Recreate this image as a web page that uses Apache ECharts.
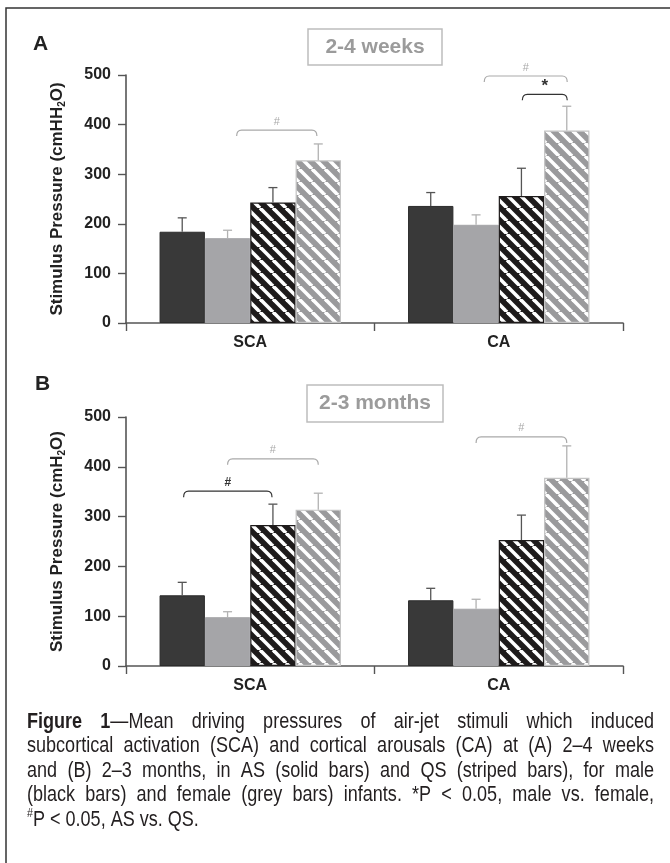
<!DOCTYPE html>
<html><head><meta charset="utf-8">
<script src="https://cdn.jsdelivr.net/npm/echarts@6/dist/echarts.min.js"></script>
<style>html,body{margin:0;padding:0;background:#fff}#c{width:670px;height:863px}</style>
</head><body><div id="c"></div>
<script>
// ---------------- data ----------------
const categories = ['SCA', 'CA'];
const yTicks = [0, 100, 200, 300, 400, 500];
const panelLetters = ['A', 'B'];
const panelTitles = ['2-4 weeks', '2-3 months'];
const yAxisTitles = ['Stimulus Pressure (cmHH{sub|2}O)', 'Stimulus Pressure (cmH{sub|2}O)'];
const seriesNames = ['Male AS', 'Female AS', 'Male QS', 'Female QS'];

// Panel A: 2-4 weeks (means and upper end of error bars)
const weeksMaleAS = [184, 236];
const weeksFemaleAS = [171, 198];
const weeksMaleQS = [243, 256];
const weeksFemaleQS = [328, 388];
const weeksMaleASErr = [212, 263];
const weeksFemaleASErr = [187, 218];
const weeksMaleQSErr = [273, 312];
const weeksFemaleQSErr = [361, 437];

// Panel B: 2-3 months
const monthsMaleAS = [142, 132];
const monthsFemaleAS = [98, 115];
const monthsMaleQS = [283, 253];
const monthsFemaleQS = [314, 378];
const monthsMaleASErr = [168, 156];
const monthsFemaleASErr = [109, 134];
const monthsMaleQSErr = [325, 303];
const monthsFemaleQSErr = [347, 442];

// significance brackets: [category, from bar slot, to bar slot, level, mark, dark]
const weeksBrackets = [[0, 1.2, 2.97, 389, '#', 0], [1, 1.18, 3.01, 498, '#', 0], [1, 2.02, 3.01, 461, '*', 1]];
const monthsBrackets = [[0, 0.03, 1.98, 351, '#', 1], [0, 1, 3, 416, '#', 0], [1, 1, 3, 460, '#', 0]];

// caption: §bold§, ^superscript^
const captionLines = [
  '§Figure§ §1§—Mean driving pressures of air-jet stimuli which induced',
  'subcortical activation (SCA) and cortical arousals (CA) at (A) 2–4 weeks',
  'and (B) 2–3 months, in AS (solid bars) and QS (striped bars), for male',
  '(black bars) and female (grey bars) infants. *P < 0.05, male vs. female,',
  '^#^P < 0.05, AS vs. QS.'
];

// ---------------- styling helpers ----------------
const FONT = '"Liberation Sans", Arial, Helvetica, sans-serif';
const AXIS_COL = '#555555';
const TXT = '#222222';
const CAT_GAP = 0.27;

function makeStripes(bg, fg) {
  const s = 13;
  const c = document.createElement('canvas');
  c.width = s; c.height = s;
  const g = c.getContext('2d');
  g.fillStyle = bg; g.fillRect(0, 0, s, s);
  g.strokeStyle = fg; g.lineWidth = 3.6;
  for (const o of [-s, 0, s]) { g.beginPath(); g.moveTo(o, 0); g.lineTo(o + s, s); g.stroke(); }
  return c;
}
const barStyles = [
  { color: '#393939', borderColor: '#2c2c2c', borderWidth: 1 },
  { color: '#a5a5a8', borderColor: '#a5a5a8', borderWidth: 1 },
  { color: { image: makeStripes('#1e1b1b', '#ffffff'), repeat: 'repeat' }, borderColor: '#1e1b1b', borderWidth: 1.2 },
  { color: { image: makeStripes('#9a9a9c', '#ffffff'), repeat: 'repeat' }, borderColor: '#c2c2c2', borderWidth: 1.2 }
];

const panels = [
  { means: [weeksMaleAS, weeksFemaleAS, weeksMaleQS, weeksFemaleQS],
    errs: [weeksMaleASErr, weeksFemaleASErr, weeksMaleQSErr, weeksFemaleQSErr],
    brackets: weeksBrackets },
  { means: [monthsMaleAS, monthsFemaleAS, monthsMaleQS, monthsFemaleQS],
    errs: [monthsMaleASErr, monthsFemaleASErr, monthsMaleQSErr, monthsFemaleQSErr],
    brackets: monthsBrackets }
];

function slotX(api, cat, slot) {
  const band = api.size([1, 0])[0];
  const bw = band * (1 - CAT_GAP) / 4;
  return api.coord([cat, 0])[0] + (slot - 1.5) * bw;
}

function errorSeries(gi, p) {
  const data = [];
  for (let b = 0; b < 4; b++) for (let c = 0; c < categories.length; c++) data.push([c, p.means[b][c], p.errs[b][c], b]);
  return {
    type: 'custom', xAxisIndex: gi, yAxisIndex: gi, z: 5, silent: true, data,
    encode: { x: 0, y: [1, 2] },
    renderItem(params, api) {
      const cat = api.value(0), b = api.value(3);
      const x = slotX(api, cat, b);
      const y0 = api.coord([cat, api.value(1)])[1];
      const y1 = api.coord([cat, api.value(2)])[1];
      const col = b % 2 === 0 ? '#555555' : '#b2b2b2';
      return { type: 'group', children: [
        { type: 'line', shape: { x1: x, y1: y0, x2: x, y2: y1 }, style: { stroke: col, lineWidth: 1.3 } },
        { type: 'line', shape: { x1: x - 4.5, y1: y1, x2: x + 4.5, y2: y1 }, style: { stroke: col, lineWidth: 1.3 } }
      ] };
    }
  };
}

function bracketSeries(gi, brackets) {
  return {
    type: 'custom', xAxisIndex: gi, yAxisIndex: gi, z: 6, silent: true,
    data: brackets.map(b => [b[0], b[3]]),
    encode: { x: 0, y: 1 },
    renderItem(params, api) {
      const br = brackets[params.dataIndex];
      const x1 = slotX(api, br[0], br[1]);
      const x2 = slotX(api, br[0], br[2]);
      const y = api.coord([br[0], br[3]])[1];
      const dark = br[5] === 1;
      const col = dark ? '#333333' : '#a9a9a9';
      const d = 6, r = 5;
      const path = `M${x1},${y + d} Q${x1},${y} ${x1 + r},${y} L${x2 - r},${y} Q${x2},${y} ${x2},${y + d}`;
      const isStar = br[4] === '*';
      return { type: 'group', children: [
        { type: 'path', shape: { pathData: path }, style: { fill: null, stroke: col, lineWidth: 1.2 } },
        { type: 'text', style: { text: br[4], x: (x1 + x2) / 2, y: y - (isStar ? 0 : 3),
          align: 'center', verticalAlign: 'bottom', textAlign: 'center', textVerticalAlign: 'bottom', fill: col,
          font: isStar ? 'bold 17px ' + FONT : (dark ? 'bold 12px ' : '11px ') + FONT } }
      ] };
    }
  };
}

const grids = [
  { left: 126, top: 75, width: 497, height: 248 },
  { left: 126, top: 417, width: 497, height: 249 }
];

const xAxes = [], yAxes = [], series = [];
panels.forEach((p, gi) => {
  xAxes.push({
    type: 'category', gridIndex: gi, data: categories,
    axisLine: { lineStyle: { color: AXIS_COL, width: 1.6 } },
    axisTick: { show: true, length: 8, lineStyle: { color: AXIS_COL, width: 1.4 } },
    axisLabel: { color: TXT, fontFamily: FONT, fontWeight: 'bold', fontSize: 16, margin: 12 }
  });
  yAxes.push({
    type: 'value', gridIndex: gi, min: yTicks[0], max: yTicks[yTicks.length - 1], interval: yTicks[1] - yTicks[0],
    splitLine: { show: false },
    axisLine: { show: true, lineStyle: { color: AXIS_COL, width: 1.6 } },
    axisTick: { show: true, length: 8, lineStyle: { color: AXIS_COL, width: 1.4 } },
    axisLabel: { color: TXT, fontFamily: FONT, fontWeight: 'bold', fontSize: 16, margin: 15 },
    name: yAxisTitles[gi], nameLocation: 'middle', nameRotate: 90, nameGap: 59,
    nameTextStyle: { color: TXT, fontFamily: FONT, fontWeight: 'bold', fontSize: 17, lineHeight: 19,
      rich: { sub: { fontSize: 10, fontWeight: 'bold', fontFamily: FONT, color: TXT, verticalAlign: 'bottom', lineHeight: 10 } } }
  });
  seriesNames.forEach((nm, b) => {
    series.push({
      name: nm, type: 'bar', xAxisIndex: gi, yAxisIndex: gi, data: p.means[b],
      barGap: '0%', barCategoryGap: (CAT_GAP * 100) + '%', itemStyle: barStyles[b], silent: true, z: 2
    });
  });
  series.push(errorSeries(gi, p));
  series.push(bracketSeries(gi, p.brackets));
});

// ---------------- caption ----------------
function buildCaption() {
  const ctx = document.createElement('canvas').getContext('2d');
  ctx.font = '40px "Liberation Sans Narrow", monospace';
  const w1 = ctx.measureText('abcdefghijklmnop').width;
  ctx.font = '40px monospace';
  const w2 = ctx.measureText('abcdefghijklmnop').width;
  const hasNarrow = Math.abs(w1 - w2) > 0.5;
  const fam = hasNarrow ? '"Liberation Sans Narrow", "Arial Narrow", sans-serif' : '"Liberation Sans", Arial, sans-serif';
  const sx = hasNarrow ? 1 : 0.82;
  const fonts = { r: '22px ' + fam, b: 'bold 22px ' + fam, s: '13px ' + fam };
  function measure(seg) { ctx.font = fonts[seg.k]; return ctx.measureText(seg.t).width * sx; }
  function parse(word) {
    const segs = []; const re = /§(.+?)§|\^(.+?)\^|([^§^]+)/g; let m;
    while ((m = re.exec(word))) {
      if (m[1]) segs.push({ t: m[1], k: 'b' });
      else if (m[2]) segs.push({ t: m[2], k: 's' });
      else segs.push({ t: m[3], k: 'r' });
    }
    return segs;
  }
  const els = [];
  const left = 27, right = 654, y0 = 722, lh = 24.4;
  captionLines.forEach((line, li) => {
    const words = line.split(' ').map(parse);
    const widths = words.map(ws => ws.reduce((s, sg) => s + measure(sg), 0));
    const total = widths.reduce((a, b) => a + b, 0);
    const last = li === captionLines.length - 1;
    const gap = last ? measure({ t: ' ', k: 'r' }) : (right - left - total) / (words.length - 1);
    let x = left;
    const y = y0 + li * lh;
    words.forEach(ws => {
      ws.forEach(sg => {
        els.push({ type: 'text', x: x, y: sg.k === 's' ? y - 6 : y, scaleX: sx, scaleY: 1, silent: true,
          style: { text: sg.t, font: fonts[sg.k], fill: '#231f20', textAlign: 'left', align: 'left',
            textVerticalAlign: 'middle', verticalAlign: 'middle' } });
        x += measure(sg);
      });
      x += gap;
    });
  });
  return els;
}

const graphics = [
  { type: 'rect', silent: true, shape: { x: 6, y: 8, width: 700, height: 900 }, style: { fill: 'none', stroke: '#333333', lineWidth: 1.5 } },
  { type: 'text', x: 33, y: 44.5, silent: true, style: { text: panelLetters[0], font: 'bold 21px ' + FONT, fill: TXT, textVerticalAlign: 'middle', verticalAlign: 'middle' } },
  { type: 'text', x: 35, y: 384.5, silent: true, style: { text: panelLetters[1], font: 'bold 21px ' + FONT, fill: TXT, textVerticalAlign: 'middle', verticalAlign: 'middle' } },
  { type: 'rect', silent: true, shape: { x: 308, y: 29, width: 134, height: 36 }, style: { fill: '#fff', stroke: '#bdbdbd', lineWidth: 1.5 } },
  { type: 'text', x: 375, y: 47, silent: true, style: { text: panelTitles[0], font: 'bold 21px ' + FONT, fill: '#9b9b9b', textAlign: 'center', align: 'center', textVerticalAlign: 'middle', verticalAlign: 'middle' } },
  { type: 'rect', silent: true, shape: { x: 307, y: 385, width: 136, height: 37 }, style: { fill: '#fff', stroke: '#bdbdbd', lineWidth: 1.5 } },
  { type: 'text', x: 375, y: 403.5, silent: true, style: { text: panelTitles[1], font: 'bold 21px ' + FONT, fill: '#9b9b9b', textAlign: 'center', align: 'center', textVerticalAlign: 'middle', verticalAlign: 'middle' } }
].concat(buildCaption());

const chart = echarts.init(document.getElementById('c'), null, { renderer: 'canvas' });
chart.setOption({
  animation: false,
  backgroundColor: '#ffffff',
  grid: grids,
  xAxis: xAxes,
  yAxis: yAxes,
  series: series,
  graphic: { elements: graphics }
});
</script>
</body></html>
